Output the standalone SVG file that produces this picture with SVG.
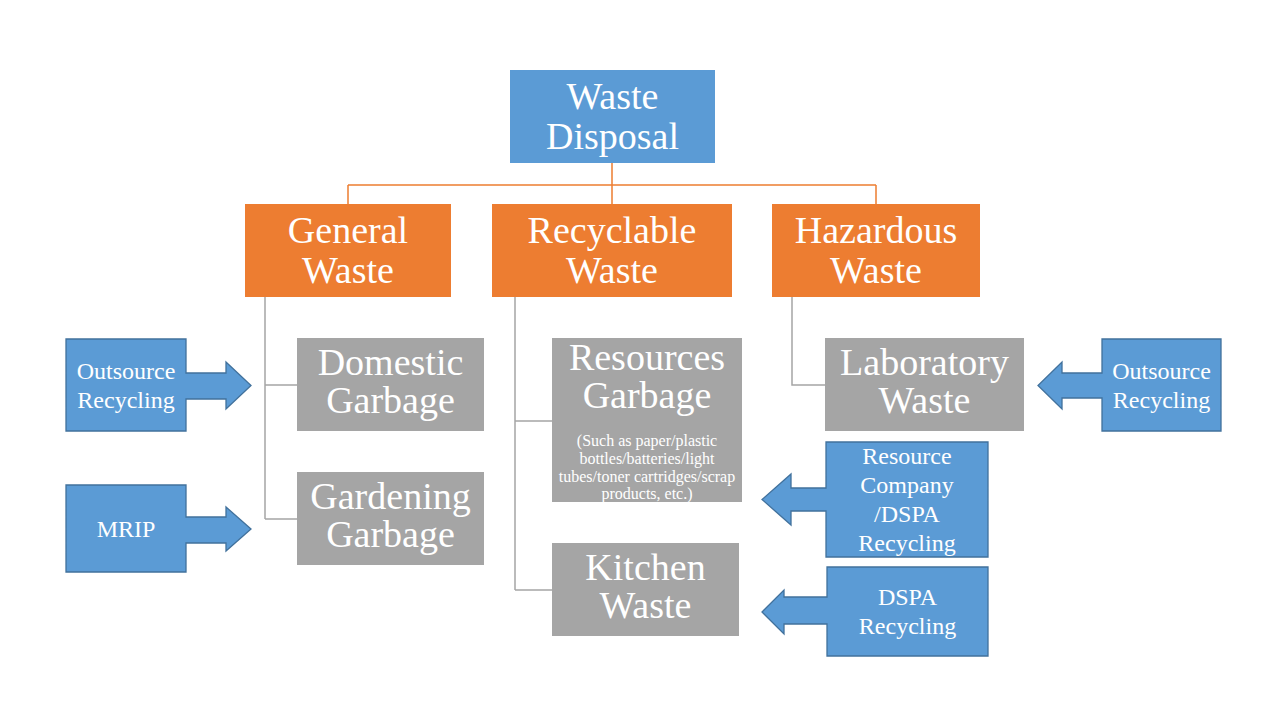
<svg xmlns="http://www.w3.org/2000/svg" width="1280" height="720" viewBox="0 0 1280 720">
<style>
.blue{fill:#5B9BD5}
.orange{fill:#ED7D31}
.gray{fill:#A5A5A5}
.callout{fill:#5B9BD5;stroke:#41719C;stroke-width:1.3}
.t{font-family:"Liberation Serif","Times New Roman",serif;fill:#ffffff;text-anchor:middle}
.big{font-size:38px}
.mid{font-size:24px}
.small{font-size:16px}
.oc{fill:none;stroke:#ED7D31;stroke-width:1.5}
.gc{fill:none;stroke:#A5A5A5;stroke-width:1.5}
</style>
<rect width="1280" height="720" fill="#ffffff"/>
<g id="connectors">
<path class="oc" d="M612,163 V185 M348,185 H876 M348,185 V204 M612,185 V204 M876,185 V204"/>
<path class="gc" d="M265,297 V519 M265,385 H297 M265,519 H297"/>
<path class="gc" d="M515,297 V590 M515,421 H552 M515,590 H552"/>
<path class="gc" d="M792,297 V385 H825"/>
</g>
<g id="waste-disposal">
<rect class="blue" x="510" y="70" width="205" height="93"/>
<text class="t big" x="612.5" y="109">Waste</text>
<text class="t big" x="612.5" y="149">Disposal</text>
</g>
<g id="general-waste">
<rect class="orange" x="245" y="204" width="206" height="93"/>
<text class="t big" x="348" y="243">General</text>
<text class="t big" x="348" y="283">Waste</text>
</g>
<g id="recyclable-waste">
<rect class="orange" x="492" y="204" width="240" height="93"/>
<text class="t big" x="612" y="243">Recyclable</text>
<text class="t big" x="612" y="283">Waste</text>
</g>
<g id="hazardous-waste">
<rect class="orange" x="772" y="204" width="208" height="93"/>
<text class="t big" x="876" y="243">Hazardous</text>
<text class="t big" x="876" y="283">Waste</text>
</g>
<g id="domestic-garbage">
<rect class="gray" x="297" y="338" width="187" height="93"/>
<text class="t big" x="390.5" y="375">Domestic</text>
<text class="t big" x="390.5" y="413">Garbage</text>
</g>
<g id="gardening-garbage">
<rect class="gray" x="297" y="472" width="187" height="93"/>
<text class="t big" x="390.5" y="509">Gardening</text>
<text class="t big" x="390.5" y="547">Garbage</text>
</g>
<g id="resources-garbage">
<rect class="gray" x="552" y="338" width="190" height="164"/>
<text class="t big" x="647" y="370">Resources</text>
<text class="t big" x="647" y="408">Garbage</text>
<text class="t small" x="647" y="446">(Such as paper/plastic</text>
<text class="t small" x="647" y="464">bottles/batteries/light</text>
<text class="t small" x="647" y="482">tubes/toner cartridges/scrap</text>
<text class="t small" x="647" y="499">products, etc.)</text>
</g>
<g id="kitchen-waste">
<rect class="gray" x="552" y="543" width="187" height="93"/>
<text class="t big" x="645.5" y="580">Kitchen</text>
<text class="t big" x="645.5" y="618">Waste</text>
</g>
<g id="laboratory-waste">
<rect class="gray" x="825" y="338" width="199" height="93"/>
<text class="t big" x="924.5" y="375">Laboratory</text>
<text class="t big" x="924.5" y="413">Waste</text>
</g>
<g id="outsource-recycling-left">
<path class="callout" d="M66,339 H186 V373 H226 V362 L251,385.5 L226,409 V399 H186 V431 H66 Z"/>
<text class="t mid" x="126" y="379">Outsource</text>
<text class="t mid" x="126" y="408">Recycling</text>
</g>
<g id="mrip">
<path class="callout" d="M66,485 H186 V517 H226 V507 L251,529 L226,551 V543 H186 V572 H66 Z"/>
<text class="t mid" x="126" y="537">MRIP</text>
</g>
<g id="outsource-recycling-right">
<path class="callout" d="M1102,339 H1221 V431 H1102 V398 H1062 V409 L1038,385.5 L1062,362 V373 H1102 Z"/>
<text class="t mid" x="1161.5" y="379">Outsource</text>
<text class="t mid" x="1161.5" y="408">Recycling</text>
</g>
<g id="resource-company-dspa-recycling">
<path class="callout" d="M826,442 H988 V557 H826 V511 H791 V525 L762,499.5 L791,474 V488 H826 Z"/>
<text class="t mid" x="907" y="464">Resource</text>
<text class="t mid" x="907" y="493">Company</text>
<text class="t mid" x="907" y="522">/DSPA</text>
<text class="t mid" x="907" y="551">Recycling</text>
</g>
<g id="dspa-recycling">
<path class="callout" d="M827,567 H988 V656 H827 V624 H784 V634 L762,612 L784,590 V597 H827 Z"/>
<text class="t mid" x="907.5" y="605">DSPA</text>
<text class="t mid" x="907.5" y="634">Recycling</text>
</g>
</svg>
